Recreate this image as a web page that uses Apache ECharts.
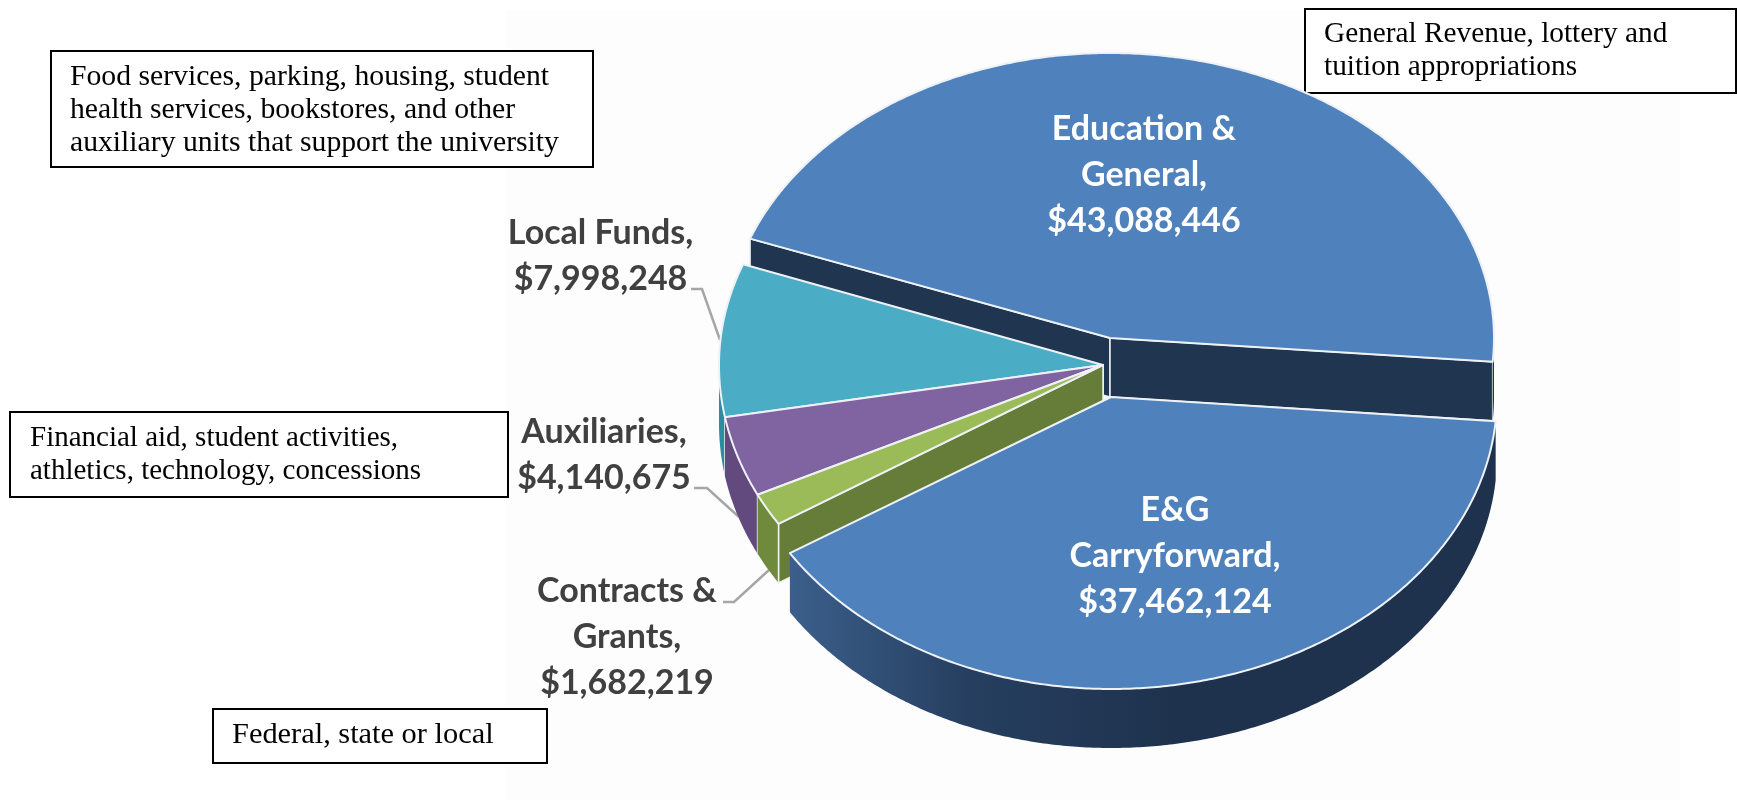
<!DOCTYPE html>
<html>
<head>
<meta charset="utf-8">
<title>Budget by fund source</title>
<style>
  html, body { margin: 0; padding: 0; background: #fff; }
  #chart { width: 1737px; height: 800px; }
</style>
<script src="https://cdn.jsdelivr.net/npm/echarts@6/dist/echarts.min.js"></script>
</head>
<body>
<div id="chart"></div>
<script>
// chart values, clockwise from the top left edge of Education & General
const sliceNames = ['Education & General', 'E&G Carryforward', 'Contracts & Grants', 'Auxiliaries', 'Local Funds']
const sliceValues = [43088446, 37462124, 1682219, 4140675, 7998248]
const labelLines = [
  ['Education &', 'General,'],
  ['E&G', 'Carryforward,'],
  ['Contracts &', 'Grants,'],
  ['Auxiliaries,'],
  ['Local Funds,'],
]
const noteTexts = [
  ['Food services, parking, housing, student', 'health services, bookstores, and other', 'auxiliary units that support the university'],
  ['General Revenue, lottery and', 'tuition appropriations'],
  ['Financial aid, student activities,', 'athletics, technology, concessions'],
  ['Federal, state or local'],
]

// styles and layout
const topColors = ['#4f81bd', '#4f81bd', '#9bbb59', '#8064a2', '#4bacc6']
const rimColors = ['#1f3550', null, '#6f8a3d', '#634a7e', '#2f8aa3']
const edgeColors = ['#1f3550', '#1f3550', '#667d3a', '#634a7e', '#2f8aa3']
// exploded slices have their own centre
const sliceCenters = [[1110, 338], [1111, 397], [1103, 365], [1103, 365], [1103, 365]]
// right, left, up and down radius: the perspective makes the ellipse uneven
const sliceRadii = [
  [384, 384, 285, 285],
  [386, 380, 292, 292],
  [384, 384, 289, 297],
  [384, 384, 289, 297],
  [384, 384, 289, 297],
]
const labelBoxes = [
  { x: 1144, y: 129, color: '#fff' },
  { x: 1175, y: 510, color: '#fff' },
  { x: 627, y: 591, color: '#404040' },
  { x: 604, y: 432, color: '#404040' },
  { x: 600.5, y: 233, color: '#404040' },
]
const noteBoxes = [
  { x: 51, y: 51, w: 542, h: 116, textX: 70, textY: 77, size: 29.7 },
  { x: 1305, y: 9, w: 431, h: 84, textX: 1324, textY: 34, size: 29.3 },
  { x: 10, y: 412, w: 498, h: 85, textX: 30, textY: 438, size: 29 },
  { x: 213, y: 709, w: 334, h: 54, textX: 232, textY: 735, size: 30.4 },
]
const leaderLines = [
  [[691, 289], [702, 289], [720, 340]],
  [[694, 488], [707, 488], [739, 517]],
  [[723, 602], [734, 602], [769, 570]],
]
const startAngle = -159.6
const wallDepth = 59
const edgeStroke = '#eef1f5'
// painter's order, back to front
const drawOrder = [0, 4, 3, 2, 1]

const total = sliceValues.reduce((a, b) => a + b, 0)
const sliceAngles = []
let angleAt = startAngle
for (let i = 0; i < sliceValues.length; i++) {
  const sweep = sliceValues[i] / total * 360
  sliceAngles.push([angleAt, angleAt + sweep])
  angleAt += sweep
}

const rad = function (deg) {
  return deg * Math.PI / 180
}

const rimPoint = function (i, deg, drop) {
  const c = Math.cos(rad(deg))
  const s = Math.sin(rad(deg))
  const radii = sliceRadii[i]
  return [
    sliceCenters[i][0] + (c > 0 ? radii[0] : radii[1]) * c,
    sliceCenters[i][1] + (s < 0 ? radii[2] : radii[3]) * s + drop,
  ]
}

const rimArc = function (i, from, to, drop) {
  const points = []
  const steps = Math.max(2, Math.ceil(Math.abs(to - from) * 2))
  for (let s = 0; s <= steps; s++) {
    points.push(rimPoint(i, from + (to - from) * s / steps, drop))
  }
  return points
}

const renderSlice = function (params, api) {
  const i = api.value(0)
  const a0 = sliceAngles[i][0]
  const a1 = sliceAngles[i][1]
  const cx = sliceCenters[i][0]
  const cy = sliceCenters[i][1]
  const children = []

  const edgeWall = function (deg) {
    const p = rimPoint(i, deg, 0)
    children.push({
      type: 'polygon',
      shape: { points: [[cx, cy], p, [p[0], p[1] + wallDepth], [cx, cy + wallDepth]] },
      style: { fill: edgeColors[i], stroke: edgeStroke, lineWidth: 1.5 },
    })
  }
  // only the cut faces turned to the viewer
  if (Math.cos(rad(a0)) < 0) edgeWall(a0)
  if (Math.cos(rad(a1)) > 0) edgeWall(a1)

  // outer wall, only the front half of the rim shows
  const from = Math.max(a0, 0)
  const to = Math.min(a1, 180)
  if (to > from) {
    const wallPoints = rimArc(i, from, to, 0).concat(rimArc(i, to, from, wallDepth))
    const fill = rimColors[i] || {
      type: 'linear', x: 1, y: 0, x2: 0, y2: 0,
      colorStops: [
        { offset: 0, color: '#1e324d' },
        { offset: 0.45, color: '#1e324d' },
        { offset: 0.75, color: '#263f60' },
        { offset: 1, color: '#3b5f8b' },
      ],
    }
    children.push({ type: 'polygon', shape: { points: wallPoints }, style: { fill: fill } })
    if (i > 1) {
      // corner line where the green wall meets the cut face
      const corner = rimPoint(i, a0, 0)
      children.push({
        type: 'line',
        shape: { x1: corner[0], y1: corner[1], x2: corner[0], y2: corner[1] + wallDepth },
        style: { stroke: edgeStroke, lineWidth: 1.5 },
      })
    }
  }

  const topPoints = [[cx, cy]].concat(rimArc(i, a0, a1, 0))
  children.push({
    type: 'polygon',
    shape: { points: topPoints },
    style: { fill: topColors[i], stroke: edgeStroke, lineWidth: 2, lineJoin: 'round' },
  })

  return { type: 'group', children: children }
}

const money = function (v) {
  return '$' + v.toLocaleString('en-US')
}

const labelFont = 'bold 34px Lato'
const graphics = []

// the picture behind the pie is very slightly off white
graphics.push({
  type: 'rect',
  z: 0,
  shape: { x: 505, y: 10, width: 1175, height: 790 },
  style: { fill: '#fdfdfd' },
})

noteBoxes.forEach(function (box, n) {
  graphics.push({
    type: 'rect',
    z: 1,
    shape: { x: box.x, y: box.y, width: box.w, height: box.h },
    style: { fill: '#fff', stroke: '#000', lineWidth: 2 },
  })
  noteTexts[n].forEach(function (line, k) {
    graphics.push({
      type: 'text',
      z: 2,
      x: box.textX,
      y: box.textY + k * 33,
      style: { text: line, font: box.size + 'px "Liberation Serif"', fill: '#000', textVerticalAlign: 'middle' },
    })
  })
})

leaderLines.forEach(function (points) {
  graphics.push({
    type: 'polyline',
    z: 2,
    shape: { points: points },
    style: { fill: null, stroke: '#a6a6a6', lineWidth: 2.5 },
  })
})

// slice labels sit above the pie
sliceValues.forEach(function (v, i) {
  const lines = labelLines[i].concat([money(v)])
  lines.forEach(function (line, k) {
    graphics.push({
      type: 'text',
      z: 20,
      x: labelBoxes[i].x,
      y: labelBoxes[i].y + k * 46,
      style: {
        text: line,
        font: labelFont,
        fill: labelBoxes[i].color,
        textAlign: 'center',
        textVerticalAlign: 'middle',
      },
    })
  })
})

const chart = echarts.init(document.getElementById('chart'))
chart.setOption({
  backgroundColor: '#fff',
  animation: false,
  series: [{
    type: 'custom',
    name: 'Budget',
    coordinateSystem: 'none',
    z: 5,
    silent: true,
    renderItem: renderSlice,
    data: drawOrder.map(function (i) {
      return { name: sliceNames[i], value: [i, sliceValues[i]] }
    }),
  }],
  graphic: graphics,
})
</script>
</body>
</html>
